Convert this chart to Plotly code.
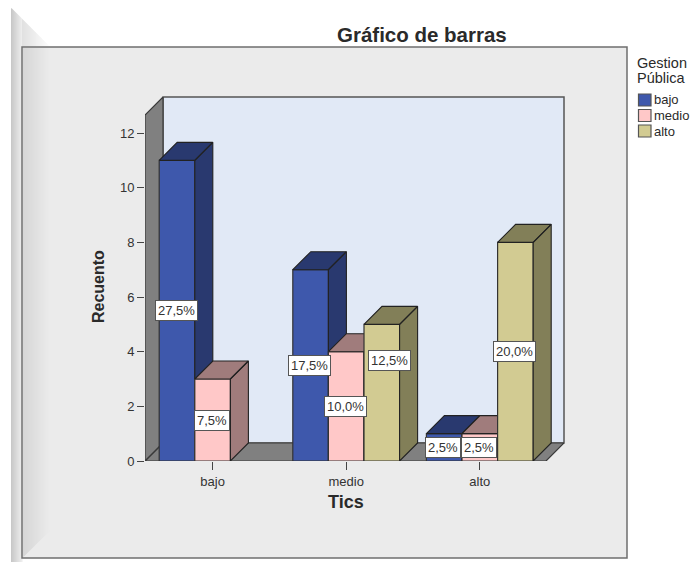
import plotly.graph_objects as go

# values
categories = ["bajo", "medio", "alto"]
series_names = ["bajo", "medio", "alto"]
bajo_counts = [11, 7, 1]
medio_counts = [3, 4, 1]
alto_counts = [0, 5, 8]
bajo_pct = ["27,5%", "17,5%", "2,5%"]
medio_pct = ["7,5%", "10,0%", "2,5%"]
alto_pct = ["", "12,5%", "20,0%"]
y_ticks = [0, 2, 4, 6, 8, 10, 12]

counts = [bajo_counts, medio_counts, alto_counts]
pcts = [bajo_pct, medio_pct, alto_pct]
front = ["#3e58ac", "#ffc8c8", "#d2cb92"]
shade = ["#29396f", "#a07c7c", "#827f58"]

W, H = 692, 562
L, R, T, B = 145, 564, 97, 461   # plot box in pixels
px_x = 133.6                     # pixels per category
px_y = 27.33                     # pixels per count
depth = 18
dx, dy = depth / px_x, depth / px_y
bar_w = 35.6 / px_x
x_lo = -0.506
x_hi = x_lo + (R - L) / px_x
y_hi = (B - T) / px_y
x_end = x_hi - dx
y_end = y_hi - dy
LINE = "#333333"


def pxx(x):
    return (x - L) / (R - L)


def pxy(y):
    return (B - y) / (B - T)


def poly_path(pts):
    return "M" + "L".join(f"{pxx(a)},{pxy(b)}" for a, b in pts) + "Z"


def mix(a, b, t):
    return "rgb(%d,%d,%d)" % tuple(round(a + (b - a) * t) for _ in range(3))


def page_text(x, y, text, size, **kw):
    kw.setdefault("xanchor", "center")
    return dict(x=pxx(x), y=pxy(y), xref="paper", yref="paper", yanchor="middle", text=text,
                showarrow=False, font=dict(size=size, color="#2a2a2a"), **kw)


shapes = []
# bevel at the left of the page
for i in range(11):
    x0 = 11 + i
    shapes.append(dict(type="path", xref="paper", yref="paper", layer="below", line_width=0,
                       fillcolor=mix(200, 236, i / 10),
                       path=poly_path([(x0, 8 + i), (x0 + 1.5, 9 + i), (x0 + 1.5, 562), (x0, 562)])))
for i in range(27):
    x0 = 22 + i
    shapes.append(dict(type="path", xref="paper", yref="paper", layer="below", line_width=0,
                       fillcolor=mix(225, 252, i / 26),
                       path=poly_path([(x0, 19 + i), (x0 + 1.5, 20 + i), (x0 + 1.5, 47), (x0, 47)])))
# panel
shapes.append(dict(type="path", xref="paper", yref="paper", layer="below", fillcolor="#ebebeb",
                   line=dict(color="#6f6f6f", width=1.5),
                   path=poly_path([(22, 47), (627, 47), (627, 558), (22, 558)])))
for i in range(27):
    x0 = 23 + i
    shapes.append(dict(type="path", xref="paper", yref="paper", layer="below", line_width=0,
                       fillcolor=mix(214, 235, i / 26),
                       path=poly_path([(x0, 48), (x0 + 1.5, 48), (x0 + 1.5, 556 - i), (x0, 557 - i)])))
# back wall
shapes.append(dict(type="path", xref="paper", yref="paper", layer="below", fillcolor="#e1e9f6",
                   line=dict(color="#555555", width=1.5),
                   path=poly_path([(L + depth, T), (R, T), (R, B - depth), (L + depth, B - depth)])))

fig = go.Figure()

# left wall and floor
fig.add_trace(go.Scatter(
    x=[x_lo, x_lo + dx, x_lo + dx, x_lo, x_lo, None, x_lo, x_lo + dx, x_hi, x_end, x_lo],
    y=[0, dy, y_hi, y_end, 0, None, 0, dy, dy, 0, 0],
    mode="lines", fill="toself", fillcolor="#808080",
    line=dict(color="#3a3a3a", width=1.2), hoverinfo="skip", showlegend=False))

# one overlaid subplot per series, so each one paints over the depth faces of the last
for s, vals in enumerate(counts):
    suffix = str(s + 2)
    off = (s - 1.5) * bar_w
    fig.add_trace(go.Bar(
        x=[0, 1, 2], y=[v if v else None for v in vals], name=series_names[s],
        width=bar_w, offset=off, marker=dict(color=front[s], line=dict(color=LINE, width=1.2)),
        xaxis="x" + suffix, yaxis="y" + suffix, showlegend=False))
    xs, ys = [], []
    for c, v in enumerate(vals):
        if not v:
            continue
        a = c + off
        b = a + bar_w
        xs += [a, a + dx, b + dx, b, a, None, b, b + dx, b + dx, b, b, None]
        ys += [v, v + dy, v + dy, v, v, None, v, v + dy, dy, 0, v, None]
    fig.add_trace(go.Scatter(
        x=xs, y=ys, mode="lines", fill="toself", fillcolor=shade[s],
        line=dict(color="#222222", width=1.1), hoverinfo="skip", showlegend=False,
        xaxis="x" + suffix, yaxis="y" + suffix))

annotations = []
# percentage labels; medio/alto is moved up and right in the original to clear its neighbours
for s, vals in enumerate(counts):
    for c, v in enumerate(vals):
        if not v:
            continue
        nudge = (8, -32) if (s, c) == (2, 1) else (-1, 0)
        annotations.append(dict(
            x=c + (s - 1) * bar_w, y=v / 2, xref="x", yref="y", text=pcts[s][c], showarrow=False,
            xshift=nudge[0], yshift=-nudge[1], bgcolor="white", bordercolor="#555555", borderwidth=1,
            borderpad=2, font=dict(size=13, color="#333333")))

annotations.append(page_text(422, 35, "<b>Gráfico de barras</b>", 20.5))
annotations.append(page_text(98, 287, "<b>Recuento</b>", 16, textangle=-90))
annotations.append(page_text(346, 502, "<b>Tics</b>", 18))
annotations.append(page_text(635, 63, "Gestion", 14.5, xanchor="left"))
annotations.append(page_text(635, 78, "Pública", 14.5, xanchor="left"))

# legend, drawn by hand because the original swatches are tighter than plotly's
for s, name in enumerate(series_names):
    yc = 100 + s * 15.5
    shapes.append(dict(type="rect", xref="paper", yref="paper", fillcolor=front[s],
                       line=dict(color="#555555", width=1.2),
                       x0=pxx(638.5), x1=pxx(651), y0=pxy(yc + 6), y1=pxy(yc - 6)))
    annotations.append(page_text(652, yc, name, 13, xanchor="left"))

layout = dict(
    width=W, height=H, margin=dict(l=L, r=W - R, t=T, b=H - B, autoexpand=False),
    paper_bgcolor="white", plot_bgcolor="rgba(0,0,0,0)",
    barmode="overlay", showlegend=False, shapes=shapes, annotations=annotations,
    font=dict(family="Liberation Sans, Arial, sans-serif", color="#333333"),
    xaxis=dict(range=[x_lo, x_hi], tickvals=[0, 1, 2], ticktext=categories, ticks="outside", ticklen=8,
               tickcolor="#444444", showgrid=False, zeroline=False, tickfont=dict(size=13)),
    yaxis=dict(range=[0, y_hi], tickvals=y_ticks, ticks="outside", ticklen=7,
               tickcolor="#444444", showgrid=False, zeroline=False, tickfont=dict(size=13)),
)
for s in (2, 3, 4):
    layout[f"xaxis{s}"] = dict(range=[x_lo, x_hi], overlaying="x", visible=False)
    layout[f"yaxis{s}"] = dict(range=[0, y_hi], overlaying="y", visible=False)
fig.update_layout(**layout)

# drop the browser's default body margin so the figure fills the window
fig.write_html("out.html", config=dict(displayModeBar=False),
               post_script="document.body.style.margin='0';document.body.style.overflow='hidden';")
